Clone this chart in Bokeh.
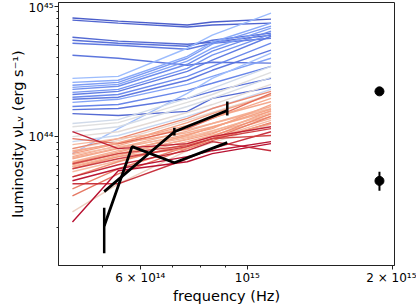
import numpy as np
from bokeh.plotting import figure
from bokeh.models import FixedTicker, Range1d
from bokeh.embed import file_html
from bokeh.resources import INLINE

# ---- data (luminosity in units of 1e43 erg/s) ----
freq = [4.34e14, 5.40e14, 7.51e14, 8.46e14, 1.12e15]

line_cvals = [
    0.02, 0.04, 0.05, 0.07, 0.09, 0.08,
    0.28, 0.22, 0.18, 0.20, 0.14, 0.16, 0.10, 0.13, 0.09, 0.20, 0.12, 0.05, 0.08, 0.30,
    0.45, 0.50, 0.47, 0.52, 0.42, 0.55,
    0.80, 0.75, 0.72, 0.67, 0.70, 0.73, 0.65, 0.69, 0.74, 0.71, 0.66, 0.78, 0.82, 0.84, 0.58, 0.76, 0.86,
    0.72, 0.70, 0.73, 0.68,
    0.97, 0.95, 1.00, 0.93, 0.96, 0.99, 0.92,
]
line_lums = [
    [80.9, 76.6, 71.5, 75.4, 79.4],
    [78.0, 74.0, 69.0, 71.5, 74.0],
    [57.7, 53.8, 51.0, 52.8, 59.8],
    [54.7, 51.9, 49.2, 54.7, 62.0],
    [51.9, 50.1, 46.7, 51.9, 56.7],
    [42.0, 39.8, 35.2, 37.1, 36.5],
    [27.9, 28.9, 47.5, 59.8, 88.3],
    [26.0, 27.0, 41.2, 52.8, 74.0],
    [24.7, 26.0, 39.8, 51.0, 70.2],
    [23.8, 25.1, 37.8, 47.5, 67.7],
    [23.0, 24.3, 35.8, 45.1, 64.3],
    [21.8, 23.0, 33.3, 42.0, 60.9],
    [21.0, 22.2, 31.6, 38.5, 58.7],
    [20.0, 21.0, 28.9, 34.5, 51.9],
    [19.3, 20.0, 27.0, 32.2, 45.9],
    [18.3, 19.3, 25.1, 28.9, 39.8],
    [17.0, 17.6, 22.6, 25.6, 34.5],
    [15.0, 14.5, 15.6, 19.6, 23.8],
    [16.1, 16.4, 19.6, 22.2, 27.9],
    [7.40, 11.5, 21.4, 27.9, 43.5],
    [12.6, 13.5, 19.6, 23.4, 34.5],
    [11.9, 12.8, 18.3, 21.0, 31.0],
    [10.9, 11.9, 17.0, 19.6, 28.4],
    [10.0, 10.9, 15.3, 17.6, 25.1],
    [9.15, 10.2, 14.3, 16.4, 23.0],
    [8.09, 9.31, 13.3, 15.3, 21.0],
    [8.09, 9.65, 13.8, 16.4, 22.2],
    [7.40, 8.84, 12.8, 15.0, 20.7],
    [7.02, 8.53, 11.9, 13.8, 19.6],
    [8.68, 9.65, 11.3, 12.6, 16.4],
    [7.80, 8.84, 10.7, 11.9, 15.6],
    [6.77, 8.09, 10.4, 11.5, 17.6],
    [7.27, 8.38, 10.0, 11.1, 14.8],
    [6.42, 7.80, 9.82, 10.7, 14.3],
    [6.09, 7.40, 9.48, 10.5, 15.8],
    [5.67, 7.02, 9.15, 10.2, 13.8],
    [5.38, 6.53, 8.68, 9.65, 13.3],
    [4.92, 6.42, 8.84, 10.0, 15.0],
    [3.98, 5.67, 8.38, 9.65, 14.3],
    [3.52, 5.19, 8.09, 9.31, 12.8],
    [2.65, 4.35, 7.80, 8.99, 12.4],
    [5.88, 7.02, 8.09, 9.65, 12.6],
    [9.65, 8.84, 11.5, 13.8, 21.4],
    [7.60, 9.00, 12.2, 14.0, 18.5],
    [6.90, 8.20, 11.0, 12.6, 17.0],
    [6.30, 7.60, 10.2, 11.8, 16.2],
    [5.90, 7.20, 9.60, 11.0, 15.2],
    [10.9, 8.09, 8.84, 10.0, 11.9],
    [4.35, 4.35, 6.77, 8.09, 10.9],
    [2.22, 5.47, 6.42, 7.40, 8.84],
    [5.67, 6.77, 8.38, 9.65, 11.5],
    [4.92, 6.09, 7.80, 9.15, 7.80],
    [4.59, 5.67, 7.02, 7.80, 9.15],
    [6.20, 7.40, 8.53, 9.65, 10.2],
]

obs_a_freq = [5.05e14, 5.77e14, 7.06e14, 9.09e14]
obs_a_lum = [2.07, 8.38, 6.31, 8.99]
obs_b_freq = [5.05e14, 7.06e14, 9.09e14]
obs_b_lum = [3.79, 10.9, 15.85]
err_freq = [5.05e14, 7.06e14, 9.09e14]
err_lo = [1.28, 10.2, 14.5]
err_hi = [2.85, 11.7, 18.6]

uv_freq = [1.88e15, 1.88e15]
uv_lum = [22.2, 4.58]
uv_err_freq = [1.88e15]
uv_err_lo = [3.85]
uv_err_hi = [5.38]

x_major = [6e14, 1e15, 2e15]
x_major_labels = ["6 × 10¹⁴", "10¹⁵", "2 × 10¹⁵"]
x_minor = [4e14, 5e14, 7e14, 8e14, 9e14]
y_major = [1e44, 1e45]
y_major_labels = ["10⁴⁴", "10⁴⁵"]
y_minor = [m * 10.0 ** e for e in (43, 44) for m in range(2, 10)]

UNIT = 1e43

# coolwarm colormap anchors (style only)
_cw = [(59, 76, 192), (98, 130, 234), (141, 176, 254), (184, 208, 249),
       (221, 221, 221), (245, 196, 173), (244, 154, 123), (222, 96, 77), (180, 4, 38)]


def coolwarm(t):
    t = min(max(t, 0.0), 1.0) * (len(_cw) - 1)
    i = min(int(t), len(_cw) - 2)
    f = t - i
    c = [round(_cw[i][k] + (_cw[i + 1][k] - _cw[i][k]) * f) for k in range(3)]
    return "#%02x%02x%02x" % tuple(c)


FONT = "DejaVu Sans"

p = figure(width=416, height=306, x_axis_type="log", y_axis_type="log",
           output_backend="svg", toolbar_location=None,
           x_range=Range1d(4.06e14, 2.02e15), y_range=Range1d(1.03e43, 1.064e45),
           min_border_left=58, min_border_right=22, min_border_top=2, min_border_bottom=40)

for c, lums in zip(line_cvals, line_lums):
    p.line(freq, [v * UNIT for v in lums], line_color=coolwarm(c), line_width=1.4, line_alpha=0.95)

p.line(obs_a_freq, [v * UNIT for v in obs_a_lum], line_color="black", line_width=2.8)
p.line(obs_b_freq, [v * UNIT for v in obs_b_lum], line_color="black", line_width=2.8)
p.segment(err_freq, [v * UNIT for v in err_lo], err_freq, [v * UNIT for v in err_hi],
          line_color="black", line_width=2.5)
p.segment(uv_err_freq, [v * UNIT for v in uv_err_lo], uv_err_freq, [v * UNIT for v in uv_err_hi],
          line_color="black", line_width=2.0)
p.scatter(uv_freq, [v * UNIT for v in uv_lum], size=9, color="black")

p.xgrid.visible = False
p.ygrid.visible = False
p.outline_line_color = "#222222"
p.outline_line_width = 1
p.background_fill_color = "white"
p.border_fill_color = "white"

p.xaxis.ticker = FixedTicker(ticks=x_major, minor_ticks=x_minor)
p.xaxis.major_label_overrides = {t: l for t, l in zip(x_major, x_major_labels)}
p.yaxis.ticker = FixedTicker(ticks=y_major, minor_ticks=y_minor)
p.yaxis.major_label_overrides = {t: l for t, l in zip(y_major, y_major_labels)}

p.xaxis.axis_label = "frequency (Hz)"
p.yaxis.axis_label = "luminosity νLᵥ (erg s⁻¹)"

for ax in (p.xaxis[0], p.yaxis[0]):
    ax.axis_line_color = "#222222"
    ax.major_tick_line_color = "#222222"
    ax.minor_tick_line_color = "#222222"
    ax.major_tick_in = 0
    ax.major_tick_out = 4
    ax.minor_tick_in = 0
    ax.minor_tick_out = 2
    ax.major_label_text_font = FONT
    ax.major_label_text_font_size = "12px"
    ax.major_label_text_color = "black"
    ax.axis_label_text_font = FONT
    ax.axis_label_text_font_size = "14.5px"
    ax.axis_label_text_font_style = "normal"
    ax.axis_label_text_color = "black"
    ax.major_label_standoff = 1
    ax.axis_label_standoff = 0

html = file_html(p, INLINE)
html = html.replace("<head>", "<head><style>html,body{margin:0;padding:0;overflow:hidden}</style>", 1)
open("out.html", "w").write(html)
